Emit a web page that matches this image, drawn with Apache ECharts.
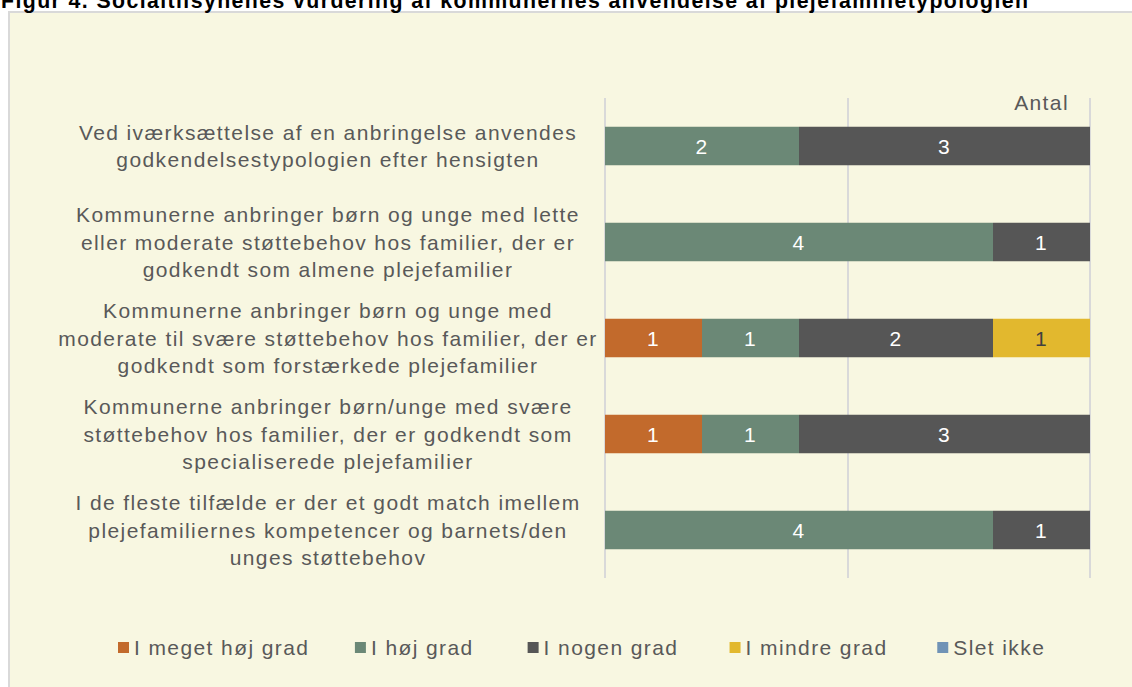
<!DOCTYPE html>
<html>
<head>
<meta charset="utf-8">
<style>
  html, body { margin: 0; padding: 0; background: #fff; }
  #chart { width: 1132px; height: 687px; }
  /* the source text is set with slightly loose tracking */
  #chart svg text { letter-spacing: 1.4px; }
</style>
<script src="https://cdn.jsdelivr.net/npm/echarts@6/dist/echarts.min.js"></script>
</head>
<body>
<div id="chart"></div>
<script>
const categories = [
  'Ved iværksættelse af en anbringelse anvendes\ngodkendelsestypologien efter hensigten',
  'Kommunerne anbringer børn og unge med lette\neller moderate støttebehov hos familier, der er\ngodkendt som almene plejefamilier',
  'Kommunerne anbringer børn og unge med\nmoderate til svære støttebehov hos familier, der er\ngodkendt som forstærkede plejefamilier',
  'Kommunerne anbringer børn/unge med svære\nstøttebehov hos familier, der er godkendt som\nspecialiserede plejefamilier',
  'I de fleste tilfælde er der et godt match imellem\nplejefamiliernes kompetencer og barnets/den\nunges støttebehov'
];
const seriesNames = ['I meget høj grad', 'I høj grad', 'I nogen grad', 'I mindre grad', 'Slet ikke'];
const meget = [0, 0, 1, 1, 0];
const hoj = [2, 4, 1, 1, 4];
const nogen = [3, 1, 2, 3, 1];
const mindre = [0, 0, 1, 0, 0];
const sletIkke = [0, 0, 0, 0, 0];
const colors = ['#c26a2c', '#6b8876', '#565656', '#e2b82e', '#7093b6'];
const labelColors = ['#fff', '#fff', '#fff', '#404040', '#fff'];

const chart = echarts.init(document.getElementById('chart'), null, { renderer: 'svg' });

const makeSeries = (name, data, i) => ({
  name: name,
  type: 'bar',
  stack: 'total',
  barWidth: '40%',
  data: data.map(v => (v === 0 ? null : v)),
  itemStyle: { color: colors[i] },
  label: {
    show: true,
    position: 'inside',
    color: labelColors[i],
    fontSize: 21
  },
  emphasis: { disabled: true }
});

const option = {
  backgroundColor: '#ffffff',
  textStyle: { fontFamily: 'Liberation Sans' },
  graphic: [
    {
      type: 'rect',
      z: -10,
      shape: { x: 9, y: 12, width: 1140, height: 700 },
      style: { fill: '#f8f7e1', stroke: '#d9d9d9', lineWidth: 2 }
    },
    {
      type: 'text',
      left: 1,
      top: -10,
      style: {
        text: 'Figur 4. Socialtilsynenes vurdering af kommunernes anvendelse af plejefamilietypologien',
        font: 'bold 21.3px "Liberation Sans"',
        fill: '#000'
      }
    },
    {
      type: 'text',
      right: 70,
      top: 92,
      style: {
        text: 'Antal',
        font: '21px "Liberation Sans"',
        fill: '#595959'
      }
    }
  ],
  grid: {
    left: 605,
    right: 42,
    top: 98,
    bottom: 109,
    containLabel: false,
    outerBoundsMode: 'none'
  },
  legend: {
    data: seriesNames,
    left: 113,
    top: 632,
    icon: 'rect',
    itemWidth: 11,
    itemHeight: 11,
    itemGap: 68,
    textStyle: { fontSize: 21, color: '#595959' }
  },
  xAxis: {
    type: 'value',
    min: 0,
    max: 5,
    interval: 2.5,
    axisLabel: { show: false },
    axisLine: { show: false },
    axisTick: { show: false },
    splitLine: { lineStyle: { color: '#d9d9d9', width: 2 } }
  },
  yAxis: {
    type: 'category',
    inverse: true,
    data: categories,
    axisLine: { show: false },
    axisTick: { show: false },
    axisLabel: {
      align: 'center',
      margin: 277,
      fontSize: 21,
      lineHeight: 27.5,
      color: '#595959',
      padding: [4, 0, 0, 0]
    }
  },
  series: [
    makeSeries(seriesNames[0], meget, 0),
    makeSeries(seriesNames[1], hoj, 1),
    makeSeries(seriesNames[2], nogen, 2),
    makeSeries(seriesNames[3], mindre, 3),
    makeSeries(seriesNames[4], sletIkke, 4)
  ]
};

chart.setOption(option);
</script>
</body>
</html>
